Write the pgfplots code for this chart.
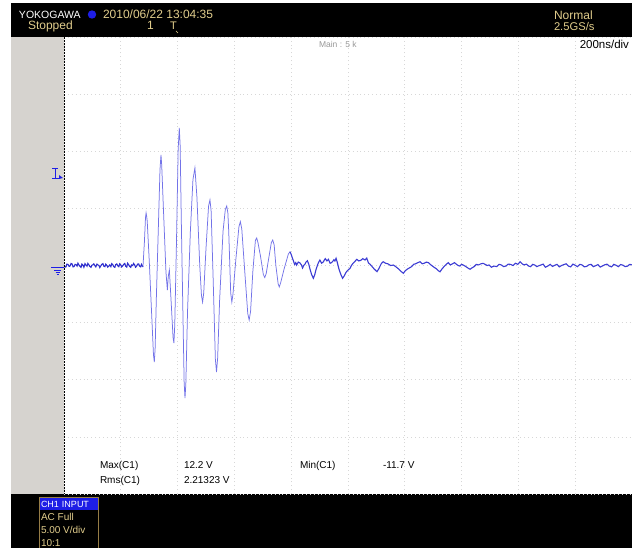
\documentclass[border=0pt]{standalone}
\usepackage{pgfplots}
\pgfplotsset{compat=1.18}
\usepackage{fontspec}
\setmainfont{Liberation Sans}
\definecolor{tan}{RGB}{225,205,140}
\definecolor{strip}{RGB}{214,211,207}
\definecolor{gridc}{RGB}{215,215,215}
\definecolor{trdark}{RGB}{45,45,205}
\definecolor{trlight}{RGB}{115,115,232}
\definecolor{trmid}{RGB}{60,60,212}
\definecolor{chblue}{RGB}{30,30,230}
\definecolor{boxb}{RGB}{150,125,70}
\begin{document}
\begin{tikzpicture}[every node/.style={inner sep=0pt, outer sep=0pt}]
\useasboundingbox (0pt,0pt) rectangle (632pt,-548pt);
\fill[white] (0pt,0pt) rectangle (632pt,-548pt);
% top bar
\fill[black] (11pt,-3pt) rectangle (632pt,-37pt);
\fill[strip] (11pt,-37pt) rectangle (64pt,-494pt);
\fill[black] (11pt,-494pt) rectangle (632pt,-548pt);
% axis
\begin{axis}[at={(64pt,-494pt)}, anchor=south west,
  width=568pt, height=457pt, scale only axis,
  xmin=0, xmax=2000, ymin=-20, ymax=20,
  axis line style={draw=none},
  xtick={0,200,...,2000}, ytick={-20,-15,...,20},
  xticklabels={}, yticklabels={}, major tick length=0pt,
  grid=major,
  major grid style={gridc, dash pattern=on 0.9pt off 3pt, line width=0.7pt},
  clip=true]
% baseline before the burst
\addplot[trdark, line width=1.1pt] coordinates {
(0,0.05) (4,-0.14) (7,-0.12) (10,0.12) (14,0.10) (18,-0.08) (21,-0.05) (25,0.18) (28,0.15) (32,-0.12) (35,-0.10) (39,0.10) (42,0.08) (46,-0.05) (49,0.20)
(53,0.02) (56,-0.06) (60,-0.16) (63,0.12) (67,0.02) (70,-0.15) (74,0.16) (77,0.05) (81,-0.06) (84,0.18) (88,0.04) (91,-0.08) (95,-0.16) (98,0.02) (102,0.06) (105,0.14)
(109,-0.02) (112,-0.12) (116,0.12) (119,0.06) (123,0.0) (126,-0.18) (130,-0.02) (133,0.10) (137,0.16) (140,-0.05) (144,-0.1) (147,0.12) (151,0.0) (154,-0.14)
(158,-0.04) (161,0.04) (165,-0.1) (168,0.16) (172,0.06) (175,-0.10) (179,-0.16) (182,0.08) (186,0.14) (189,-0.02) (193,-0.1) (196,0.15) (200,0.04) (203,-0.12)
(207,-0.02) (210,0.10) (214,0.18) (217,-0.06) (221,-0.14) (224,0.20) (228,0.06) (231,-0.08) (235,-0.16) (238,0.05) (242,0.0) (245,0.18) (249,0.04) (252,-0.15)
(256,-0.04) (259,0.12) (263,0.14) (266,-0.05) (270,-0.12) (273,0.10) (278,-0.13)};
% burst
\addplot[trlight, line width=0.75pt] coordinates {
(278,-0.13) (283,2.0) (287,4.2) (289,4.6) (291,4.3) (293,3.9) (300,0.5) (310,-5) (315,-7.8) (318,-8.45) (321,-7.2) (325,-3)
(333,4) (338,8.4) (341.5,9.68) (344,8.8) (350,5) (359,-0.57) (364,-2.15) (367,-1.0) (371,-0.39)
(378,-3.5) (384,-6.3) (387,-6.79) (390,-5.2) (396,2) (402,10.2) (406,12.04) (409,10.5) (413,4) (420,-6) (423,-10.2) (426,-11.6) (429,-10.4) (435,-4)
(445,3) (454,7.5) (461,8.54) (468,6) (478,0) (484,-2.6) (488,-3.2) (492,-2.4) (500,1.5) (509,5.2) (514,5.74) (518,4.8)
(525,-1) (533,-8.2) (537,-9.33) (541,-8.1) (548,-3) (560,3) (568,4.9) (573,5.21) (577,4.6) (580,3) (587,-2.4) (591,-3.2) (595,-2.5) (605,0.5)
(616,3.4) (621,3.84) (626,3.2) (635,0) (647,-4.2) (652,-4.77) (657,-4.0) (665,-0.5) (674,2.2) (678.5,2.41) (683,2.0) (692,0.8) (702,-0.8) (707,-1.05) (712,-0.7)
(720,0.5) (730,2.0) (735,2.23) (740,1.8) (746,0) (754,-1.6) (758,-1.88) (763,-1.5) (775,-0.3) (790,1.0) (796,1.21)};
% tail
\addplot[trmid, line width=1.1pt] coordinates {
(796,1.21) (801,0.9) (805,0.6) (812,0.1) (816,0.25) (819,0.04) (825,0.3) (831,0.22) (836,0.05) (840,-0.22) (844,0.0) (848,0.1)
(852,0.3) (857,0.42) (862,0.1) (866,-0.3) (872,-0.8) (878,-1.12) (883,-0.8) (888,-0.3) (895,0.2) (901,0.48) (907,0.2) (913,0.31)
(916,0.45) (920,0.6) (926,0.4) (931,0.54) (937,0.2) (942,0.25) (946,0.35) (950,0.5) (954,0.4) (958,0.63) (962,0.3) (968,-0.3) (975,-0.8)
(981,-1.12) (987,-0.9) (993,-0.6) (1000,-0.4) (1007,-0.25) (1012,0.0) (1018,0.2) (1024,0.35) (1031,0.54) (1038,0.4) (1045,0.45) (1052,0.6) (1060,0.48)
(1066,0.65) (1072,0.22) (1078,0.1) (1085,-0.1) (1092,-0.3) (1102,-0.54) (1107,-0.35) (1112,-0.1) (1118,0.2) (1124,0.33) (1132,0.2)
(1140,0.15) (1150,0.0) (1160,0.04) (1168,-0.1) (1178,-0.3) (1186,-0.5) (1195,-0.68) (1202,-0.45) (1210,-0.3) (1217,-0.2) (1224,-0.1)
(1231,0.1) (1238,0.15) (1246,0.25) (1254,0.33) (1261,0.15) (1268,0.2) (1276,0.3) (1283,0.25) (1292,0.05) (1300,-0.1) (1306,-0.2) (1312,-0.3)
(1318,-0.45) (1324,-0.55) (1331,-0.3) (1338,-0.1) (1346,0.1) (1353,0.25) (1360,0.05) (1368,0.15) (1375,0.25) (1382,0.1) (1388,0.0) (1394,-0.05) (1400,0.1)
(1406,0.04) (1412,-0.05) (1418,-0.15) (1424,-0.25) (1430,-0.33) (1437,-0.2) (1444,-0.1) (1452,0.1) (1460,0.05) (1468,0.15) (1476,0.19) (1483,0.1)
(1490,0.0) (1497,0.05) (1505,-0.15) (1514,-0.05) (1524,-0.1) (1532,0.1) (1540,0.05) (1548,-0.1) (1556,-0.05) (1564,0.12) (1572,0.1) (1581,0.0)
(1590,0.2) (1598,0.1) (1606,0.33) (1613,0.15) (1620,0.05) (1628,0.12) (1636,-0.05) (1643,-0.1) (1650,0.1) (1657,0.05) (1665,-0.1) (1672,-0.02)
(1680,0.05) (1687,0.12) (1695,-0.15) (1703,-0.05) (1712,0.1) (1720,-0.08) (1728,0.02) (1736,0.1) (1744,-0.12) (1752,0.0) (1760,0.08) (1768,0.15)
(1776,-0.05) (1784,-0.12) (1792,0.12) (1800,0.02) (1808,-0.1) (1816,0.1) (1824,0.05) (1832,-0.12) (1840,-0.08) (1848,0.06) (1856,0.1) (1864,-0.1)
(1872,-0.02) (1880,0.08) (1888,-0.14) (1896,-0.04) (1904,0.06) (1912,0.12) (1920,-0.05) (1928,-0.12) (1936,0.1) (1944,0.02) (1952,-0.1) (1960,0.08)
(1968,0.03) (1976,-0.1) (1984,-0.06) (1992,0.1) (2000,0.05)};
\end{axis}
% left dashed edge
\draw[black, line width=1pt, dash pattern=on 2pt off 1pt] (64pt,-37pt) -- (64pt,-494pt);
% markers on left
\draw[chblue, line width=0.8pt] (52pt,-168pt) -- (58pt,-168pt) (55pt,-168pt) -- (55pt,-178pt) (52pt,-178pt) -- (60pt,-178pt);
\fill[chblue] (59pt,-175pt) -- (63pt,-178pt) -- (59pt,-179pt) -- cycle;
\draw[chblue, line width=0.8pt] (51pt,-267pt) -- (64pt,-267pt);
\draw[chblue, line width=0.6pt] (54pt,-270pt) -- (61pt,-270pt) (55.5pt,-272pt) -- (59.5pt,-272pt) (56.5pt,-274pt) -- (58.5pt,-274pt);
% top bar texts
\node[anchor=base west, text=white, font=\fontsize{10.5}{12}\selectfont] at (19pt,-19pt) {YOKOGAWA};
\fill[chblue] (92pt,-14.5pt) circle (4.2pt);
\node[anchor=base west, text=tan, font=\fontsize{12}{14}\selectfont] at (103pt,-19pt) {2010/06/22 13:04:35};
\node[anchor=base west, text=tan, font=\fontsize{12}{14}\selectfont] at (28pt,-30pt) {Stopped};
\node[anchor=base west, text=tan, font=\fontsize{12}{14}\selectfont] at (147pt,-30pt) {1};
\node[anchor=base west, text=tan, font=\fontsize{11}{14}\selectfont] at (170pt,-30pt) {T};
\draw[tan, line width=0.7pt] (176pt,-31pt) -- (178pt,-33pt);
\node[anchor=base west, text=tan, font=\fontsize{12}{14}\selectfont] at (554pt,-20pt) {Normal};
\node[anchor=base west, text=tan, font=\fontsize{11.2}{14}\selectfont] at (554pt,-31pt) {2.5GS/s};
% header texts inside screen
\node[anchor=base west, text=gray!80, font=\fontsize{8.5}{10}\selectfont] at (319pt,-48pt) {Main : 5 k};
\node[anchor=base east, text=black, font=\fontsize{11.5}{14}\selectfont] at (629pt,-49pt) {200ns/div};
% measurements
\node[anchor=base west, font=\fontsize{10}{12}\selectfont] at (100pt,-468pt) {Max(C1)};
\node[anchor=base west, font=\fontsize{10}{12}\selectfont] at (184pt,-468pt) {12.2 V};
\node[anchor=base west, font=\fontsize{10}{12}\selectfont] at (300pt,-468pt) {Min(C1)};
\node[anchor=base west, font=\fontsize{10}{12}\selectfont] at (383pt,-468pt) {-11.7 V};
\node[anchor=base west, font=\fontsize{10}{12}\selectfont] at (100pt,-483pt) {Rms(C1)};
\node[anchor=base west, font=\fontsize{10}{12}\selectfont] at (184pt,-483pt) {2.21323 V};
% channel box
\fill[chblue] (39.5pt,-497.5pt) rectangle (98.5pt,-510pt);
\draw[boxb, line width=1pt] (39.5pt,-548pt) -- (39.5pt,-497.5pt) -- (98.5pt,-497.5pt) -- (98.5pt,-548pt);
\node[anchor=base west, text=white, font=\fontsize{9}{10}\selectfont] at (41pt,-507.5pt) {CH1\,\,INPUT};
\node[anchor=base west, text=tan, font=\fontsize{10}{12}\selectfont] at (41pt,-520pt) {AC Full};
\node[anchor=base west, text=tan, font=\fontsize{10}{12}\selectfont] at (41pt,-533pt) {5.00 V/div};
\node[anchor=base west, text=tan, font=\fontsize{10}{12}\selectfont] at (41pt,-546pt) {10:1};
\end{tikzpicture}
\end{document}
